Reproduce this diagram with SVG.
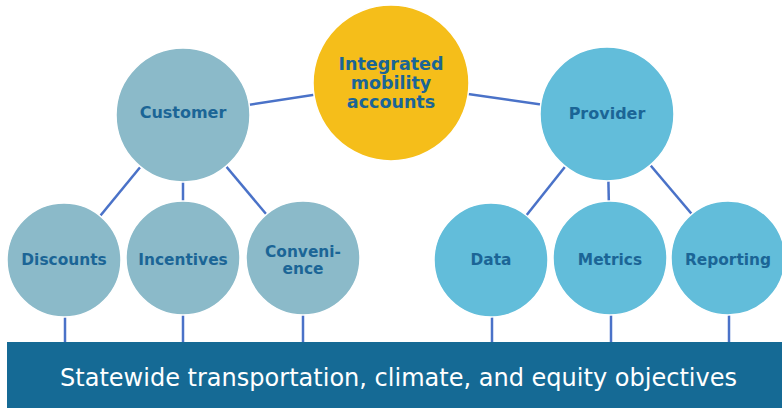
<svg xmlns="http://www.w3.org/2000/svg" width="782" height="408" viewBox="0 0 782 408">
<style>
.c{stroke:#ffffff;stroke-width:1.5}
.cust{fill:#8BBAC9}
.prov{fill:#62BDDA}
.hub{fill:#F5BE1A}
.lbl{font-family:"DejaVu Sans",Verdana,sans-serif;font-weight:bold;fill:#1B6596;text-anchor:middle}
.conn line{stroke:#4A72C8;stroke-width:2.5}
</style>
<rect width="782" height="408" fill="#ffffff"/>
<g id="connectors" class="conn">
<line x1="183" y1="115" x2="391" y2="83"/>
<line x1="391" y1="83" x2="607" y2="114"/>
<line x1="183" y1="115" x2="64" y2="260"/>
<line x1="183" y1="115" x2="183" y2="258"/>
<line x1="183" y1="115" x2="303" y2="258"/>
<line x1="607" y1="114" x2="491" y2="260"/>
<line x1="607" y1="114" x2="610" y2="258"/>
<line x1="607" y1="114" x2="729" y2="258"/>
<line x1="65" y1="260" x2="65" y2="344"/>
<line x1="183" y1="258" x2="183" y2="344"/>
<line x1="303" y1="258" x2="303" y2="344"/>
<line x1="492" y1="260" x2="492" y2="344"/>
<line x1="611" y1="258" x2="611" y2="344"/>
<line x1="729" y1="258" x2="729" y2="344"/>
</g>
<g id="hub"><circle class="c hub" cx="391" cy="83" r="78"/>
<text class="lbl" font-size="17.5"><tspan x="391" y="70">Integrated</tspan><tspan x="391" y="89">mobility</tspan><tspan x="391" y="108">accounts</tspan></text></g>
<g id="customer"><circle class="c cust" cx="183" cy="115" r="67"/><text class="lbl" font-size="16" x="183" y="118">Customer</text></g>
<g id="provider"><circle class="c prov" cx="607" cy="114" r="67"/><text class="lbl" font-size="16" x="607" y="119">Provider</text></g>
<g id="discounts"><circle class="c cust" cx="64" cy="260" r="57"/><text class="lbl" font-size="15.4" x="64" y="265">Discounts</text></g>
<g id="incentives"><circle class="c cust" cx="183" cy="258" r="57"/><text class="lbl" font-size="15.4" x="183" y="265">Incentives</text></g>
<g id="convenience"><circle class="c cust" cx="303" cy="258" r="57"/><text class="lbl" font-size="15.4"><tspan x="303" y="257">Conveni-</tspan><tspan x="303" y="274">ence</tspan></text></g>
<g id="data"><circle class="c prov" cx="491" cy="260" r="57"/><text class="lbl" font-size="15.4" x="491" y="265">Data</text></g>
<g id="metrics"><circle class="c prov" cx="610" cy="258" r="57"/><text class="lbl" font-size="15.4" x="610" y="265">Metrics</text></g>
<g id="reporting"><circle class="c prov" cx="728" cy="258" r="57"/><text class="lbl" font-size="15.4" x="728" y="265">Reporting</text></g>
<g id="objectives"><rect x="7" y="342" width="775" height="66" fill="#156A95"/>
<text x="60" y="386" font-family="DejaVu Sans Condensed, DejaVu Sans, sans-serif" font-size="24" fill="#ffffff" textLength="677" lengthAdjust="spacingAndGlyphs">Statewide transportation, climate, and equity objectives</text></g>
</svg>
